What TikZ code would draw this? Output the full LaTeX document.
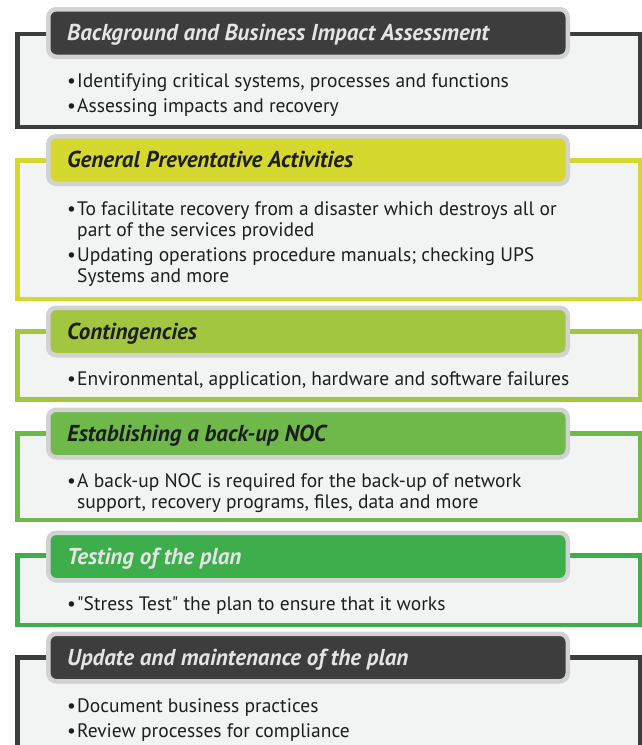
\documentclass[tikz,border=0pt]{standalone}
\usepackage{fontspec}
\setmainfont{PT Sans}
\definecolor{darkc}{HTML}{3D3D3D}
\definecolor{hdrgray}{HTML}{D2D2D2}
\definecolor{yelc}{HTML}{D5D82F}
\definecolor{limec}{HTML}{A3C640}
\definecolor{greenc}{HTML}{6FB94B}
\definecolor{green2c}{HTML}{3EAE4C}
\definecolor{boxfill}{HTML}{F2F3F3}
\definecolor{lighttext}{HTML}{E4E4E4}
\definecolor{bodytext}{HTML}{1E1E1E}
\newcommand\bul{\makebox[10pt][l]{\textbullet}}
\tikzset{
  panel/.style={draw=#1, fill=boxfill, line width=4.5pt, minimum width=622.5pt, inner sep=0pt},
  header/.style={draw=hdrgray, fill=#1, line width=4.5pt, rounded corners=8pt, minimum width=519.5pt, minimum height=47.5pt, inner sep=0pt},
  htext/.style={anchor=base west, inner sep=0pt, font=\fontsize{23}{26}\selectfont\bfseries\itshape, text=#1},
  item/.style={anchor=base west, inner sep=0pt, align=left, font=\fontsize{19.5}{21.5}\selectfont, text=bodytext}
}
\begin{document}
\begin{tikzpicture}[x=1pt,y=-1pt]
\useasboundingbox (0,0) rectangle (642,745);
\clip (0,0) rectangle (642,745);
% block 1
\node[panel=darkc, minimum height=93pt] (p1) at (328.75,80.5) {};
\node[header=darkc] (h1) at (308,33) {};
\node[htext=lighttext] (t1) at (67,40.5) {Background and Business Impact Assessment};
\node[item] (i1a) at (67,87) {\bul Identifying critical systems, processes and functions};
\node[item] (i1b) at (67,112) {\bul Assessing impacts and recovery};
% block 2
\node[panel=yelc, minimum height=138.5pt] (p2) at (328.75,229.75) {};
\node[header=yelc] (h2) at (308,160) {};
\node[htext=bodytext] (t2) at (67,167.5) {General Preventative Activities};
\node[item] (i2a) at (67,236.5) {\bul To facilitate recovery from a disaster which destroys all or\\\hspace*{10pt}part of the services provided};
\node[item] (i2b) at (67,282.5) {\bul Updating operations procedure manuals; checking UPS\\\hspace*{10pt}Systems and more};
% block 3
\node[panel=limec, minimum height=68pt] (p3) at (328.75,365.5) {};
\node[header=limec] (h3) at (308,331.5) {};
\node[htext=bodytext] (t3) at (67,339) {Contingencies};
\node[item] (i3a) at (67,385) {\bul Environmental, application, hardware and software failures};
% block 4
\node[panel=greenc, minimum height=86.5pt] (p4) at (328.75,476.75) {};
\node[header=greenc] (h4) at (308,433.5) {};
\node[htext=bodytext] (t4) at (67,441) {Establishing a back-up NOC};
\node[item] (i4a) at (67,508.5) {\bul A back-up NOC is required for the back-up of network\\\hspace*{10pt}support, recovery programs, files, data and more};
% block 5
\node[panel=green2c, minimum height=69.5pt] (p5) at (328.75,590.25) {};
\node[header=green2c] (h5) at (308,556.5) {};
\node[htext=lighttext] (t5) at (67,564) {Testing of the plan};
\node[item] (i5a) at (67,610) {\bul \textquotedbl Stress Test\textquotedbl{} the plan to ensure that it works};
% block 6
\node[panel=darkc, minimum height=142.5pt] (p6) at (328.75,728.75) {};
\node[header=darkc] (h6) at (308,657.5) {};
\node[htext=lighttext] (t6) at (67,665) {Update and maintenance of the plan};
\node[item] (i6a) at (67,712) {\bul Document business practices};
\node[item] (i6b) at (67,737) {\bul Review processes for compliance};
\end{tikzpicture}
\end{document}
